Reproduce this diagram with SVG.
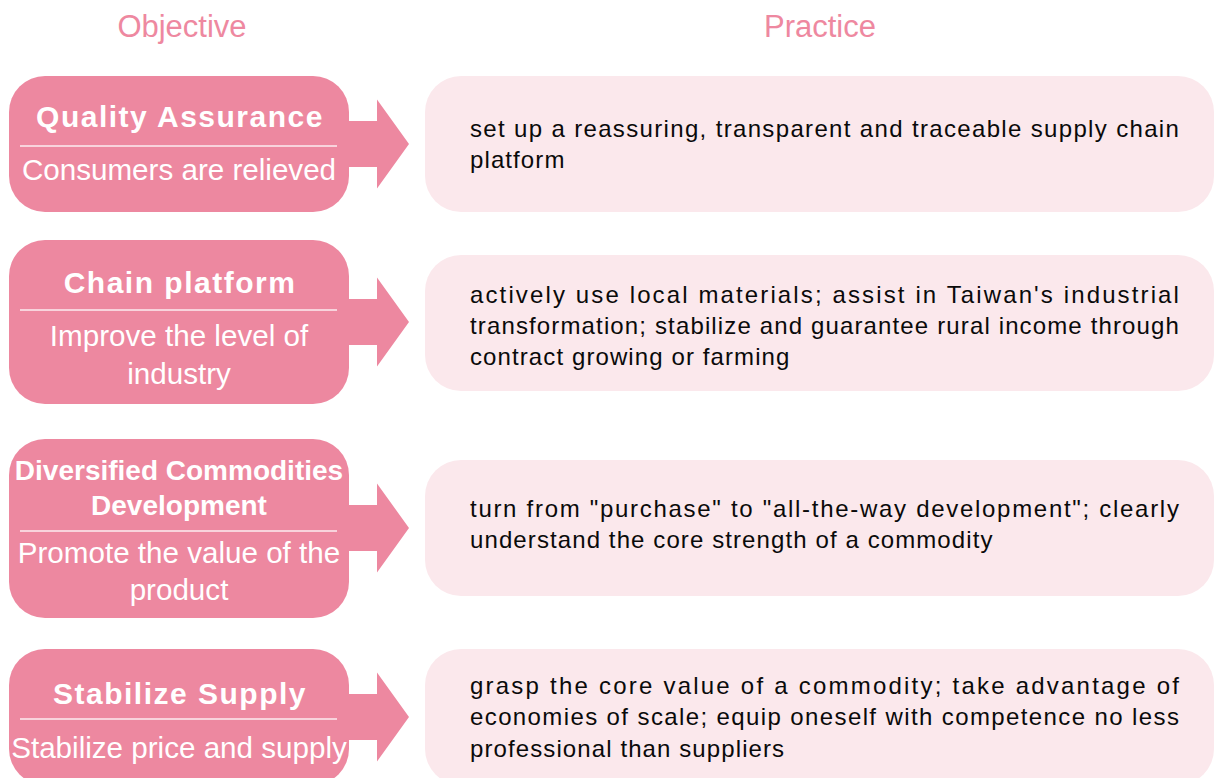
<svg xmlns="http://www.w3.org/2000/svg" width="1214" height="778" viewBox="0 0 1214 778">
<style>
.hdr{font-family:"Liberation Sans",Arial,sans-serif;font-size:31px;fill:#EE88A0;text-anchor:middle}
.obj{fill:#ED88A0}
.prc{fill:#FBE8EC}
.arrow{fill:#ED88A0}
.div{stroke:#FFFFFF;stroke-width:1.5;opacity:0.85}
.title{font-family:"Liberation Sans",Arial,sans-serif;font-size:30px;font-weight:bold;fill:#FFFFFF;text-anchor:middle;letter-spacing:1.5px}
.title2{font-size:28px;letter-spacing:0}
.sub{font-family:"Liberation Sans",Arial,sans-serif;font-size:29.6px;fill:#FFFFFF;text-anchor:middle}
.txt{font-family:"Liberation Sans",Arial,sans-serif;font-size:24px;fill:#0A0A0A;letter-spacing:1.1px}
</style>
<rect width="1214" height="778" fill="#FFFFFF"/>
<text class="hdr" x="182" y="37">Objective</text>
<text class="hdr" x="820" y="37">Practice</text>

<g id="connectors">
<polygon class="arrow" points="347,121 377,121 377,99.5 409,144 377,188.5 377,167 347,167"/>
<polygon class="arrow" points="347,299 377,299 377,277.5 409,322 377,366.5 377,345 347,345"/>
<polygon class="arrow" points="347,505 377,505 377,483.5 409,528 377,572.5 377,551 347,551"/>
<polygon class="arrow" points="347,694 377,694 377,672.5 409,717 377,761.5 377,740 347,740"/>
</g>

<g id="obj1">
<rect class="obj" x="9" y="76" width="340" height="136" rx="36"/>
<text class="title" x="180" y="127">Quality Assurance</text>
<line class="div" x1="20" y1="146" x2="337" y2="146"/>
<text class="sub" x="179" y="180">Consumers are relieved</text>
</g>
<g id="obj2">
<rect class="obj" x="9" y="240" width="340" height="164" rx="36"/>
<text class="title" x="180" y="293">Chain platform</text>
<line class="div" x1="20" y1="310" x2="337" y2="310"/>
<text class="sub" x="179" y="346">Improve the level of</text>
<text class="sub" x="179" y="384">industry</text>
</g>
<g id="obj3">
<rect class="obj" x="9" y="439" width="340" height="179" rx="36"/>
<text class="title title2" x="179" y="480">Diversified Commodities</text>
<text class="title title2" x="179" y="515">Development</text>
<line class="div" x1="20" y1="531" x2="337" y2="531"/>
<text class="sub" x="179" y="563">Promote the value of the</text>
<text class="sub" x="179" y="600">product</text>
</g>
<g id="obj4">
<rect class="obj" x="9" y="649" width="340" height="136" rx="36"/>
<text class="title" x="180" y="704">Stabilize Supply</text>
<line class="div" x1="20" y1="719" x2="337" y2="719"/>
<text class="sub" x="179" y="758">Stabilize price and supply</text>
</g>

<g id="prc1">
<rect class="prc" x="425" y="76" width="789" height="136" rx="36"/>
<text class="txt" x="470" y="137" textLength="710" lengthAdjust="spacing">set up a reassuring, transparent and traceable supply chain</text>
<text class="txt" x="470" y="168">platform</text>
</g>
<g id="prc2">
<rect class="prc" x="425" y="255" width="789" height="136" rx="36"/>
<text class="txt" x="470" y="303" textLength="710" lengthAdjust="spacing">actively use local materials; assist in Taiwan's industrial</text>
<text class="txt" x="470" y="334" textLength="710" lengthAdjust="spacing">transformation; stabilize and guarantee rural income through</text>
<text class="txt" x="470" y="365">contract growing or farming</text>
</g>
<g id="prc3">
<rect class="prc" x="425" y="460" width="789" height="136" rx="36"/>
<text class="txt" x="470" y="517" textLength="710" lengthAdjust="spacing">turn from "purchase" to "all-the-way development"; clearly</text>
<text class="txt" x="470" y="548">understand the core strength of a commodity</text>
</g>
<g id="prc4">
<rect class="prc" x="425" y="649" width="789" height="136" rx="36"/>
<text class="txt" x="470" y="694" textLength="710" lengthAdjust="spacing">grasp the core value of a commodity; take advantage of</text>
<text class="txt" x="470" y="725" textLength="710" lengthAdjust="spacing">economies of scale; equip oneself with competence no less</text>
<text class="txt" x="470" y="757">professional than suppliers</text>
</g>
</svg>
